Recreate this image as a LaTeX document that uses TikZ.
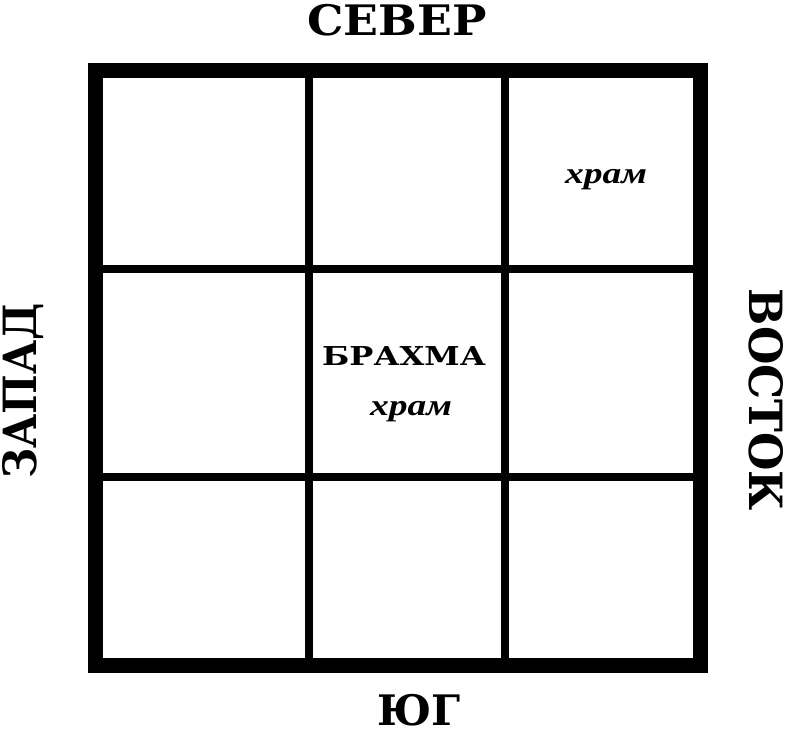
\documentclass[tikz,border=0pt]{standalone}
\usepackage{fontspec}
\setmainfont{Liberation Serif}
\newfontfamily\slabfont{DejaVu Serif}
\tikzset{
  outerline/.style={line width=15pt, line join=miter},
  innerline/.style={line width=8pt},
  side/.style={font=\slabfont\bfseries\fontsize{42}{42}\selectfont, inner sep=0pt, xscale=1.09},
  brahma/.style={font=\slabfont\bfseries\fontsize{26}{26}\selectfont, inner sep=0pt, xscale=1.23},
  temple/.style={font=\bfseries\itshape\fontsize{30}{30}\selectfont, inner sep=0pt, xscale=1.25}
}
\begin{document}
\begin{tikzpicture}[x=1pt,y=-1pt]
\useasboundingbox (0,0) rectangle (789,734);
\fill[white] (0,0) rectangle (789,734);
% inner lines
\draw[innerline] (309,70) -- (309,665);
\draw[innerline] (505,70) -- (505,665);
\draw[innerline] (95,269) -- (700,269);
\draw[innerline] (95,477) -- (700,477);
% outer square
\draw[outerline] (95,70) rectangle (700,665);
% labels
\node[side] (north) at (397,20) {СЕВЕР};
\node[side, xscale=0.92] (south) at (419,710) {ЮГ};
\node[side, rotate=90] (west) at (23,391) {ЗАПАД};
\node[side, rotate=-90, xscale=1.05] (east) at (766,400) {ВОСТОК};
\node[brahma] (brahma) at (404,356) {БРАХМА};
\node[temple] (temple1) at (411,412) {храм};
\node[temple] (temple2) at (606,180) {храм};
\end{tikzpicture}
\end{document}
